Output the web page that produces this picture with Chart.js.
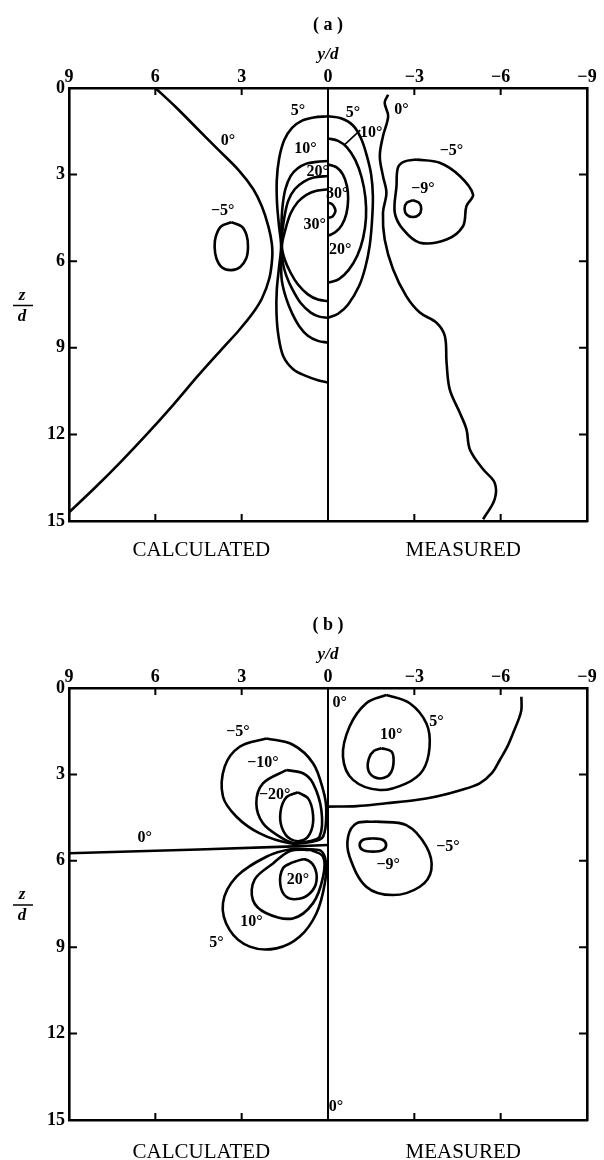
<!DOCTYPE html>
<html>
<head>
<meta charset="utf-8">
<script src="https://cdn.jsdelivr.net/npm/chart.js@4.4.1/dist/chart.umd.min.js"></script>
<style>
  html, body { margin: 0; padding: 0; background: #fff; overflow: hidden; }
  #wrap { position: relative; width: 604px; height: 1160px; }
  canvas { position: absolute; left: 0; }
  #ca { top: 0; }
  #cb { top: 600px; }
</style>
</head>
<body>
<div id="wrap">
  <canvas id="ca" width="604" height="600"></canvas>
  <canvas id="cb" width="604" height="560"></canvas>
</div>
<script>
// ---- axes ----
const yTicks = [9, 6, 3, 0, -3, -6, -9];
const yTickLabels = ['9', '6', '3', '0', '−3', '−6', '−9'];
const zTicks = [0, 3, 6, 9, 12, 15];
const zTickLabels = ['0', '3', '6', '9', '12', '15'];
const innerYMarks = [6, 3, -3, -6];
const innerZMarks = [3, 6, 9, 12];
const sideValues = [4.4, -4.7];
const sideLabels = ['CALCULATED', 'MEASURED'];

// ---- panel (a) contours, points are [y/d, z/d] ----
const a_center = [[0, 0], [0, 15]];
const a_calc_0 = [[6.0,0.0],[5.3,0.65],[4.6,1.35],[3.85,2.1],[3.1,2.85],[2.6,3.5],[2.3,4.1],[2.07,4.8],[1.95,5.4],[1.94,5.9],[2.04,6.6],[2.3,7.3],[2.65,7.85],[3.1,8.4],[3.6,8.95],[4.5,9.95],[5.4,11.0],[6.3,12.0],[7.2,12.95],[8.1,13.85],[9.0,14.7]];
const a_calc_m5 = [[3.36,4.65],[3.72,4.8],[3.9,5.15],[3.94,5.5],[3.88,5.9],[3.68,6.22],[3.36,6.31],[3.05,6.2],[2.84,5.9],[2.78,5.5],[2.83,5.1],[3.0,4.8],[3.36,4.65]];
const a_calc_5 = [[0,0.98],[0.5,1.02],[0.9,1.13],[1.25,1.38],[1.52,1.8],[1.7,2.45],[1.78,3.2],[1.77,4.0],[1.7,4.8],[1.63,5.48],[1.7,6.2],[1.78,7.0],[1.79,7.8],[1.72,8.6],[1.55,9.3],[1.2,9.75],[0.75,9.98],[0.35,10.12],[0,10.2]];
const a_calc_10 = [[0,2.53],[0.4,2.56],[0.75,2.62],[1.05,2.78],[1.3,3.05],[1.48,3.5],[1.58,4.1],[1.62,4.8],[1.62,5.48],[1.63,6.1],[1.6,6.7],[1.45,7.3],[1.25,7.8],[1.0,8.25],[0.7,8.58],[0.35,8.76],[0,8.82]];
const a_calc_20 = [[0,3.05],[0.5,3.1],[0.85,3.25],[1.15,3.5],[1.38,3.9],[1.52,4.5],[1.6,5.1],[1.62,5.48],[1.57,6.05],[1.45,6.5],[1.25,6.95],[0.95,7.45],[0.6,7.78],[0.3,7.92],[0,7.96]];
const a_calc_30 = [[0,3.51],[0.4,3.56],[0.75,3.7],[1.05,3.95],[1.3,4.35],[1.48,4.9],[1.6,5.48],[1.5,5.95],[1.3,6.4],[1.05,6.8],[0.7,7.15],[0.35,7.33],[0,7.38]];
const a_meas_5 = [[0,0.98],[-0.45,1.05],[-0.87,1.3],[-1.15,1.75],[-1.35,2.35],[-1.5,3.0],[-1.56,3.75],[-1.53,4.6],[-1.45,5.45],[-1.3,6.2],[-1.08,6.86],[-0.7,7.5],[-0.35,7.82],[0,7.96]];
const a_meas_10 = [[0,1.75],[-0.35,1.83],[-0.65,2.05],[-0.95,2.5],[-1.17,3.1],[-1.3,3.8],[-1.32,4.5],[-1.22,5.2],[-1.02,5.8],[-0.72,6.3],[-0.38,6.62],[0,6.75]];
const a_meas_20 = [[0,2.65],[-0.3,2.75],[-0.52,3.0],[-0.66,3.4],[-0.7,3.85],[-0.64,4.35],[-0.48,4.75],[-0.25,5.0],[0,5.12]];
const a_meas_30 = [[0,3.97],[-0.15,4.03],[-0.25,4.2],[-0.25,4.3],[-0.16,4.45],[0,4.5]];
const a_meas_0 = [[-2.09,0.23],[-1.97,0.51],[-2.09,0.98],[-1.91,1.67],[-1.8,2.36],[-1.91,3.05],[-2.03,3.63],[-1.91,4.32],[-1.97,5.25],[-2.26,6.28],[-2.72,7.21],[-3.19,7.78],[-3.77,8.13],[-4.06,8.59],[-4.12,9.51],[-4.23,10.44],[-4.58,11.25],[-4.81,11.82],[-4.93,12.52],[-5.39,13.21],[-5.79,13.67],[-5.79,14.25],[-5.39,14.94]];
const a_meas_m5 = [[-3.07,2.48],[-3.88,2.59],[-4.58,3.05],[-5.04,3.69],[-4.81,4.09],[-4.69,4.79],[-4.12,5.25],[-3.19,5.36],[-2.61,4.9],[-2.32,4.32],[-2.38,3.4],[-2.43,2.76],[-2.65,2.55],[-3.07,2.48]];
const a_meas_m9 = [[-2.95,3.89],[-3.16,3.97],[-3.24,4.18],[-3.16,4.39],[-2.95,4.47],[-2.74,4.39],[-2.66,4.18],[-2.74,3.97],[-2.95,3.89]];
const a_leader = [[-0.58,1.96],[-1.12,1.46]];
const a_labels = [
  ['0°', 3.48, 1.84], ['−5°', 3.66, 4.27], ['5°', 1.04, 0.8], ['10°', 0.78, 2.12],
  ['20°', 0.36, 2.9], ['30°', 0.46, 4.73],
  ['5°', -0.87, 0.86], ['10°', -1.5, 1.55], ['30°', -0.32, 3.65], ['20°', -0.42, 5.6],
  ['0°', -2.55, 0.74], ['−5°', -4.29, 2.19], ['−9°', -3.3, 3.51]
];

// ---- panel (b) contours ----
const b_center = [[0, 0], [0, 15]];
const b_calc_0 = [[9.0,5.74],[4.5,5.61],[1.2,5.5],[0,5.45]];
const b_calc_m5 = [[2.14,1.75],[3.07,2.04],[3.59,2.73],[3.65,3.77],[3.18,4.47],[2.37,5.05],[1.33,5.39],[0.6,5.35],[0.17,5.16],[0.06,4.24],[0.17,3.54],[0.52,2.61],[1.22,1.97],[2.14,1.75]];
const b_calc_m10 = [[1.45,2.85],[2.26,3.31],[2.49,4.0],[2.26,4.7],[1.68,5.16],[1.2,5.38],[0.7,5.33],[0.29,5.16],[0.23,4.24],[0.52,3.31],[0.87,2.96],[1.45,2.85]];
const b_calc_m20 = [[1.05,3.62],[1.45,3.8],[1.65,4.3],[1.6,4.85],[1.3,5.25],[0.85,5.28],[0.58,4.95],[0.52,4.4],[0.68,3.85],[1.05,3.62]];
const b_calc_5 = [[0.6,5.6],[1.3,5.6],[2.14,5.86],[3.18,6.55],[3.65,7.47],[3.42,8.4],[2.72,8.98],[1.79,9.04],[0.98,8.63],[0.4,7.82],[0.11,6.78],[0.08,6.0],[0.25,5.65],[0.6,5.6]];
const b_calc_10 = [[0.6,5.62],[1.3,5.65],[1.91,6.09],[2.55,6.65],[2.61,7.36],[2.14,7.82],[1.22,8.0],[0.52,7.47],[0.17,6.55],[0.17,5.86],[0.6,5.62]];
const b_calc_20 = [[1.22,6.05],[1.56,6.25],[1.66,6.8],[1.45,7.25],[1.0,7.32],[0.6,7.1],[0.4,6.7],[0.48,6.2],[0.8,5.95],[1.22,6.05]];
const b_meas_0 = [[0,4.12],[-1.0,4.1],[-2.03,4.0],[-3.0,3.9],[-3.77,3.77],[-4.6,3.55],[-5.27,3.31],[-5.7,2.95],[-5.97,2.5],[-6.25,2.0],[-6.43,1.57],[-6.62,1.1],[-6.72,0.76],[-6.72,0.3]];
const b_meas_5 = [[-2.03,0.24],[-2.84,0.53],[-3.42,1.23],[-3.53,2.04],[-3.3,2.85],[-2.72,3.31],[-1.8,3.54],[-0.87,3.19],[-0.52,2.38],[-0.75,1.34],[-1.33,0.53],[-2.03,0.24]];
const b_meas_10 = [[-1.86,2.09],[-2.2,2.2],[-2.28,2.5],[-2.2,2.91],[-1.95,3.12],[-1.62,3.1],[-1.4,2.85],[-1.42,2.45],[-1.6,2.18],[-1.86,2.09]];
const b_meas_m5 = [[-1.68,4.64],[-2.72,4.76],[-3.42,5.51],[-3.59,6.32],[-3.19,6.9],[-2.26,7.19],[-1.33,6.9],[-0.75,5.86],[-0.7,5.16],[-0.99,4.7],[-1.68,4.64]];
const b_meas_m9 = [[-1.56,5.22],[-1.9,5.27],[-2.02,5.45],[-1.9,5.63],[-1.56,5.68],[-1.22,5.63],[-1.1,5.45],[-1.22,5.27],[-1.56,5.22]];
const b_labels = [
  ['−5°', 3.13, 1.52], ['−10°', 2.26, 2.61], ['−20°', 1.85, 3.72], ['0°', 6.37, 5.22],
  ['20°', 1.04, 6.65], ['10°', 2.66, 8.11], ['5°', 3.88, 8.86],
  ['0°', -0.41, 0.52], ['5°', -3.77, 1.17], ['10°', -2.2, 1.63], ['−5°', -4.17, 5.51],
  ['−9°', -2.09, 6.15], ['0°', -0.28, 14.55]
];

// ---- drawing ----
const SERIF = '"Liberation Serif", "DejaVu Serif", serif';
const INK = '#000';

function series(points, extra) {
  return Object.assign({
    data: points.map(([y, z]) => ({ x: y, y: z })),
    xAxisID: 'x', yAxisID: 'y',
    borderColor: INK, borderWidth: 2.6,
    pointRadius: 0, pointHoverRadius: 0,
    showLine: true, fill: false, tension: 0.35
  }, extra || {});
}

// inward tick marks, contour labels and the stacked z/d axis caption
function decorations(labels) {
  return {
    id: 'decorations',
    afterDatasetsDraw(chart) {
      const ctx = chart.ctx, sx = chart.scales.x, sy = chart.scales.y, a = chart.chartArea;
      ctx.save();
      ctx.strokeStyle = INK;
      ctx.lineWidth = 2;
      ctx.beginPath();
      for (const v of innerYMarks) {
        const px = sx.getPixelForValue(v);
        ctx.moveTo(px, a.top); ctx.lineTo(px, a.top + 7);
        ctx.moveTo(px, a.bottom); ctx.lineTo(px, a.bottom - 7);
      }
      for (const v of innerZMarks) {
        const py = sy.getPixelForValue(v);
        ctx.moveTo(a.left, py); ctx.lineTo(a.left + 8, py);
        ctx.moveTo(a.right, py); ctx.lineTo(a.right - 8, py);
      }
      ctx.stroke();

      ctx.fillStyle = INK;
      ctx.font = 'bold 16px ' + SERIF;
      ctx.textAlign = 'center';
      ctx.textBaseline = 'middle';
      for (const [t, vy, vz] of labels) {
        ctx.fillText(t, sx.getPixelForValue(vy), sy.getPixelForValue(vz));
      }

      const cy = sy.getPixelForValue(7.5);
      ctx.font = 'italic bold 17px ' + SERIF;
      ctx.fillText('z', 22, cy - 9);
      ctx.fillText('d', 22, cy + 12);
      ctx.lineWidth = 1.5;
      ctx.beginPath();
      ctx.moveTo(13, cy + 1); ctx.lineTo(33, cy + 1);
      ctx.stroke();
      ctx.restore();
    }
  };
}

function scales(bottomHeight, sidePad) {
  const tickFont = { family: SERIF, size: 18, weight: 'bold' };
  const border = { display: true, color: INK, width: 2.6 };
  const noGrid = { display: false, drawTicks: false };
  return {
    x: {
      type: 'linear', position: 'top', min: -9, max: 9, reverse: true,
      afterBuildTicks: s => { s.ticks = yTicks.map(v => ({ value: v })); },
      afterFit: s => { s.height = 48; },
      ticks: { callback: (v, i) => yTickLabels[i], font: tickFont, color: INK, padding: 0, autoSkip: false, maxRotation: 0 },
      grid: noGrid, border,
      title: { display: true, text: 'y/d', color: INK, padding: { top: 5, bottom: 0 },
               font: { family: SERIF, size: 17, style: 'italic', weight: 'bold', lineHeight: '20px' } }
    },
    xb: {
      type: 'linear', position: 'bottom', min: -9, max: 9, reverse: true,
      afterBuildTicks: s => { s.ticks = sideValues.map(v => ({ value: v })); },
      afterFit: s => { s.height = bottomHeight; },
      ticks: { callback: (v, i) => sideLabels[i], font: { family: SERIF, size: 21 }, color: INK, padding: sidePad, autoSkip: false, maxRotation: 0 },
      grid: noGrid, border
    },
    y: {
      type: 'linear', position: 'left', min: 0, max: 15, reverse: true,
      afterBuildTicks: s => { s.ticks = zTicks.map(v => ({ value: v })); },
      afterFit: s => { s.width = 69; },
      ticks: { callback: (v, i) => zTickLabels[i], font: tickFont, color: INK, padding: 4 },
      grid: noGrid, border
    },
    yr: {
      type: 'linear', position: 'right', min: 0, max: 15, reverse: true,
      afterFit: s => { s.width = 17; },
      ticks: { display: false },
      grid: noGrid, border
    }
  };
}

function panel(canvasId, title, datasets, labels, bottomHeight, sidePad) {
  return new Chart(document.getElementById(canvasId), {
    type: 'scatter',
    data: { datasets },
    options: {
      responsive: false,
      animation: false,
      devicePixelRatio: 1,
      layout: { padding: 0 },
      events: [],
      plugins: {
        legend: { display: false },
        tooltip: { enabled: false },
        title: {
          display: true, text: title, color: INK, fullSize: false,
          font: { family: SERIF, size: 18, weight: 'bold', lineHeight: '20px' },
          padding: { top: 15, bottom: 5 }
        }
      },
      scales: scales(bottomHeight, sidePad)
    },
    plugins: [decorations(labels)]
  });
}

panel('ca', '( a )', [
  series(a_center, { borderWidth: 2, tension: 0 }),
  series(a_calc_0), series(a_calc_m5),
  series(a_calc_5), series(a_calc_10), series(a_calc_20), series(a_calc_30),
  series(a_meas_5), series(a_meas_10), series(a_meas_20), series(a_meas_30),
  series(a_meas_0), series(a_meas_m5), series(a_meas_m9),
  series(a_leader, { borderWidth: 1.6, tension: 0 })
], a_labels, 79, 17);

panel('cb', '( b )', [
  series(b_center, { borderWidth: 2, tension: 0 }),
  series(b_calc_0, { tension: 0 }),
  series(b_calc_m5), series(b_calc_m10), series(b_calc_m20),
  series(b_calc_5), series(b_calc_10), series(b_calc_20),
  series(b_meas_0), series(b_meas_5), series(b_meas_10),
  series(b_meas_m5), series(b_meas_m9)
], b_labels, 40, 20);
</script>
</body>
</html>
